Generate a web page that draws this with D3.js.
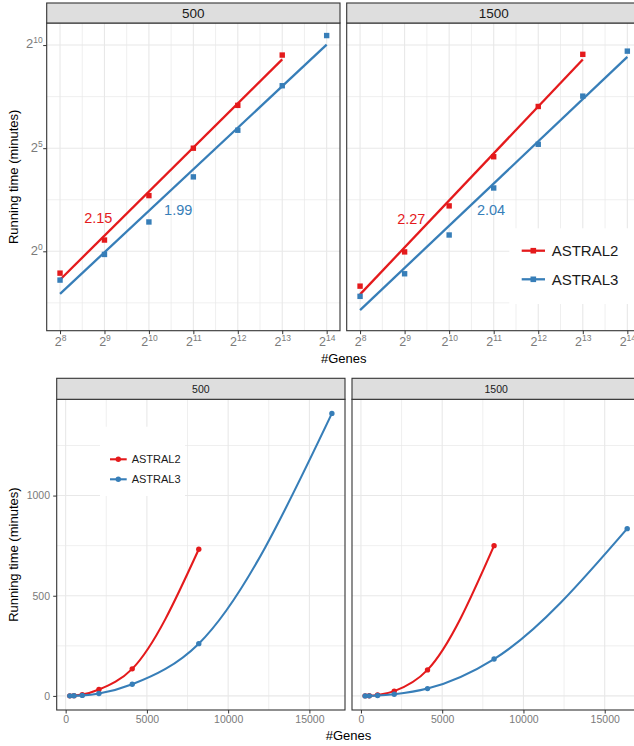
<!DOCTYPE html>
<html>
<head>
<meta charset="utf-8">
<script src="https://cdn.jsdelivr.net/npm/d3@7"></script>
<style>
  body { margin: 0; background: #fff; }
  svg { display: block; }
</style>
</head>
<body>
<svg id="chart" width="634" height="746"></svg>
<script>
// ---- data (running time in minutes per number of genes)
var genes = [256, 512, 1024, 2048, 4096, 8192, 16384];
var facets = ['500', '1500'];
var methods = ['ASTRAL2', 'ASTRAL3'];
var astral2_500 = [0.48, 1.46, 6.5, 32, 135, 732];
var astral3_500 = [0.38, 0.9, 2.68, 12.2, 58.5, 261, 1410];
var astral2_1500 = [0.31, 0.98, 4.6, 24, 130, 750];
var astral3_1500 = [0.22, 0.47, 1.73, 8.4, 36.5, 184, 835];
var slopes500 = ['2.15', '1.99'];
var slopes1500 = ['2.27', '2.04'];
// where the slope labels sit, in log2(genes), log2(minutes)
var slopeAt500 = [[8.86, 1.35], [10.66, 1.78]];
var slopeAt1500 = [[9.15, 1.32], [10.94, 1.76]];
var logXTicks = [8, 9, 10, 11, 12, 13, 14];
var logYTicks = [0, 5, 10];
var linXTicks = [0, 5000, 10000, 15000];
var linYTicks = [0, 500, 1000];

var colors = ['#e41a1c', '#377eb8'];
var FONT = '"Liberation Sans", Arial, Helvetica, sans-serif';

var seriesByFacet = {
  '500': [astral2_500, astral3_500],
  '1500': [astral2_1500, astral3_1500]
};
var slopesByFacet = { '500': slopes500, '1500': slopes1500 };
var slopeAtByFacet = { '500': slopeAt500, '1500': slopeAt1500 };

var svg = d3.select('#chart').attr('font-family', FONT);

var topL = { strip: 3, y0: 23, y1: 330.7, panels: [[46.7, 340], [346.7, 640.7]] };
var botL = { strip: 378.3, y0: 399.3, y1: 710, panels: [[56.7, 345], [352, 640.3]] };

function points(vals) {
  return vals.map(function (v, i) { return { x: genes[i], y: v }; });
}

// least squares in log2-log2 space (like geom_smooth(method = 'lm'))
function fitLog(vals) {
  var lx = vals.map(function (v, i) { return Math.log2(genes[i]); });
  var ly = vals.map(function (v) { return Math.log2(v); });
  var mx = d3.mean(lx), my = d3.mean(ly);
  var sxy = d3.sum(lx, function (x, i) { return (x - mx) * (ly[i] - my); });
  var sxx = d3.sum(lx, function (x) { return (x - mx) * (x - mx); });
  var b = sxy / sxx, a = my - b * mx;
  return [lx[0], lx[lx.length - 1]].map(function (x) {
    return { x: Math.pow(2, x), y: Math.pow(2, a + b * x) };
  });
}

function strip(x0, x1, yTop, yBot, label, size) {
  svg.append('rect')
    .attr('x', x0).attr('y', yTop)
    .attr('width', x1 - x0).attr('height', yBot - yTop)
    .attr('fill', '#dedede').attr('stroke', '#333').attr('stroke-width', 1.1);
  svg.append('text')
    .attr('x', (x0 + x1) / 2).attr('y', (yTop + yBot) / 2)
    .attr('dy', '0.36em')
    .attr('text-anchor', 'middle')
    .attr('font-size', size)
    .attr('fill', '#1a1a1a')
    .text(label);
}

function grid(g, xs, ys, xMajor, xMinor, yMajor, yMinor, x0, x1, y0, y1) {
  g.append('rect').attr('x', x0).attr('y', y0).attr('width', x1 - x0).attr('height', y1 - y0).attr('fill', '#fff');
  [[xMinor, 0.7], [xMajor, 1.1]].forEach(function (p) {
    g.selectAll(null).data(p[0]).enter().append('line')
      .attr('x1', function (d) { return xs(d); }).attr('x2', function (d) { return xs(d); })
      .attr('y1', y0).attr('y2', y1)
      .attr('stroke', '#e8e8e8').attr('stroke-width', p[1]);
  });
  [[yMinor, 0.7], [yMajor, 1.1]].forEach(function (p) {
    g.selectAll(null).data(p[0]).enter().append('line')
      .attr('y1', function (d) { return ys(d); }).attr('y2', function (d) { return ys(d); })
      .attr('x1', x0).attr('x2', x1)
      .attr('stroke', '#e8e8e8').attr('stroke-width', p[1]);
  });
}

function styleAxis(g, size) {
  g.attr('font-family', FONT).attr('font-size', size);
  g.select('.domain').remove();
  g.selectAll('.tick line').attr('stroke', '#333').attr('stroke-width', 1);
  g.selectAll('.tick text').attr('fill', '#7a7a7a');
}

function powerLabel(sel, big, small) {
  sel.text(null).each(function (d) {
    var t = d3.select(this);
    t.append('tspan').attr('font-size', big).text('2');
    t.append('tspan').attr('font-size', small).attr('dy', -5).text(Math.round(Math.log2(d)));
  });
}

// ================= top: log-log panels =================
var ysTop = d3.scaleLog().base(2)
  .domain([Math.pow(2, -3.85), Math.pow(2, 11.07)])
  .range([topL.y1, topL.y0]);

facets.forEach(function (facet, fi) {
  var x0 = topL.panels[fi][0], x1 = topL.panels[fi][1];
  var xs = d3.scaleLog().base(2).domain([Math.pow(2, 7.7), Math.pow(2, 14.3)]).range([x0, x1]);
  var g = svg.append('g');

  var pw = function (k) { return Math.pow(2, k); };
  grid(g, xs, ysTop,
    logXTicks.map(pw), logXTicks.slice(0, -1).map(function (k) { return pw(k + 0.5); }),
    logYTicks.map(pw), [-2.5, 2.5, 7.5].map(pw),
    x0, x1, topL.y0, topL.y1);

  var line = d3.line().x(function (d) { return xs(d.x); }).y(function (d) { return ysTop(d.y); });

  seriesByFacet[facet].forEach(function (vals, si) {
    g.selectAll(null).data(points(vals)).enter().append('rect')
      .attr('x', function (d) { return xs(d.x) - 2.7; })
      .attr('y', function (d) { return ysTop(d.y) - 2.7; })
      .attr('width', 5.4).attr('height', 5.4)
      .attr('fill', colors[si]);
    g.append('path').datum(fitLog(vals))
      .attr('d', line)
      .attr('fill', 'none').attr('stroke', colors[si]).attr('stroke-width', 2.3);
    var at = slopeAtByFacet[facet][si];
    g.append('text')
      .attr('x', xs(Math.pow(2, at[0]))).attr('y', ysTop(Math.pow(2, at[1])))
      .attr('text-anchor', 'middle')
      .attr('font-size', 14.5)
      .attr('fill', colors[si])
      .text(slopesByFacet[facet][si]);
  });

  g.append('rect').attr('x', x0).attr('y', topL.y0).attr('width', x1 - x0).attr('height', topL.y1 - topL.y0)
    .attr('fill', 'none').attr('stroke', '#333').attr('stroke-width', 1.1);

  var ax = svg.append('g').attr('transform', 'translate(0,' + topL.y1 + ')')
    .call(d3.axisBottom(xs).tickValues(logXTicks.map(pw)).tickSize(3.5).tickPadding(3.4));
  styleAxis(ax, 12.5);
  powerLabel(ax.selectAll('.tick text'), 12.5, 8.5);

  if (fi === 0) {
    var ay = svg.append('g').attr('transform', 'translate(' + x0 + ',0)')
      .call(d3.axisLeft(ysTop).tickValues(logYTicks.map(pw)).tickSize(3.5).tickPadding(0.5));
    styleAxis(ay, 13);
    ay.selectAll('.tick text').attr('dy', '0.22em');
    powerLabel(ay.selectAll('.tick text'), 13, 8.5);
  }

  strip(x0, x1, topL.strip, topL.y0, facet, 13.5);
});

// top legend
(function () {
  var lg = svg.append('g');
  lg.append('rect').attr('x', 509.3).attr('y', 228.3).attr('width', 125).attr('height', 75.7).attr('fill', '#fff');
  methods.forEach(function (m, i) {
    var y = 250.7 + i * 28.6;
    lg.append('line').attr('x1', 521.7).attr('x2', 545).attr('y1', y).attr('y2', y)
      .attr('stroke', colors[i]).attr('stroke-width', 2.3);
    lg.append('rect').attr('x', 533.3 - 2.8).attr('y', y - 2.8).attr('width', 5.6).attr('height', 5.6).attr('fill', colors[i]);
    lg.append('text').attr('x', 551.7).attr('y', y).attr('dy', '0.36em')
      .attr('font-size', 15).attr('fill', '#1a1a1a').text(m);
  });
})();

svg.append('text').attr('x', (topL.panels[0][0] + topL.panels[1][1]) / 2).attr('y', 363)
  .attr('text-anchor', 'middle').attr('font-size', 13).attr('fill', '#000').text('#Genes');
svg.append('text').attr('transform', 'translate(18,' + (topL.y0 + topL.y1) / 2 + ') rotate(-90)')
  .attr('text-anchor', 'middle').attr('font-size', 13).attr('fill', '#000').text('Running time (minutes)');

// ================= bottom: linear panels =================
var allVals = d3.merge([astral2_500, astral3_500, astral2_1500, astral3_1500]);
var yExt = d3.extent(allVals), yPad = (yExt[1] - yExt[0]) * 0.05;
var xExt = d3.extent(genes), xPad = (xExt[1] - xExt[0]) * 0.05;
var ysBot = d3.scaleLinear().domain([yExt[0] - yPad, yExt[1] + yPad]).range([botL.y1, botL.y0]);

function minorOf(ticks, domain) {
  var step = ticks[1] - ticks[0];
  return d3.range(ticks[0] - step / 2, domain[1], step).filter(function (v) { return v >= domain[0]; });
}

facets.forEach(function (facet, fi) {
  var x0 = botL.panels[fi][0], x1 = botL.panels[fi][1];
  var xs = d3.scaleLinear().domain([xExt[0] - xPad, xExt[1] + xPad]).range([x0, x1]);
  var g = svg.append('g');

  grid(g, xs, ysBot, linXTicks, minorOf(linXTicks, xs.domain()),
    linYTicks, minorOf(linYTicks, ysBot.domain()), x0, x1, botL.y0, botL.y1);

  var line = d3.line().curve(d3.curveMonotoneX)
    .x(function (d) { return xs(d.x); }).y(function (d) { return ysBot(d.y); });

  seriesByFacet[facet].forEach(function (vals, si) {
    var pts = points(vals);
    g.append('path').datum(pts).attr('d', line)
      .attr('fill', 'none').attr('stroke', colors[si]).attr('stroke-width', 2.1);
    g.selectAll(null).data(pts).enter().append('circle')
      .attr('cx', function (d) { return xs(d.x); })
      .attr('cy', function (d) { return ysBot(d.y); })
      .attr('r', 2.7).attr('fill', colors[si]);
  });

  g.append('rect').attr('x', x0).attr('y', botL.y0).attr('width', x1 - x0).attr('height', botL.y1 - botL.y0)
    .attr('fill', 'none').attr('stroke', '#333').attr('stroke-width', 1.1);

  var ax = svg.append('g').attr('transform', 'translate(0,' + botL.y1 + ')')
    .call(d3.axisBottom(xs).tickValues(linXTicks).tickFormat(d3.format('d')).tickSize(3.5).tickPadding(2.3));
  styleAxis(ax, 10.5);

  if (fi === 0) {
    var ay = svg.append('g').attr('transform', 'translate(' + x0 + ',0)')
      .call(d3.axisLeft(ysBot).tickValues(linYTicks).tickFormat(d3.format('d')).tickSize(3.5).tickPadding(3.2));
    styleAxis(ay, 10.5);
  }

  strip(x0, x1, botL.strip, botL.y0, facet, 10.5);
});

// bottom legend
(function () {
  var lg = svg.append('g');
  lg.append('rect').attr('x', 100).attr('y', 426.7).attr('width', 85).attr('height', 69.3).attr('fill', '#fff');
  methods.forEach(function (m, i) {
    var y = 459.3 + i * 20;
    lg.append('line').attr('x1', 110).attr('x2', 126.7).attr('y1', y).attr('y2', y)
      .attr('stroke', colors[i]).attr('stroke-width', 2.1);
    lg.append('circle').attr('cx', 118.3).attr('cy', y).attr('r', 2.7).attr('fill', colors[i]);
    lg.append('text').attr('x', 131.7).attr('y', y).attr('dy', '0.36em')
      .attr('font-size', 11).attr('fill', '#1a1a1a').text(m);
  });
})();

svg.append('text').attr('x', (botL.panels[0][0] + botL.panels[1][1]) / 2).attr('y', 740)
  .attr('text-anchor', 'middle').attr('font-size', 13).attr('fill', '#000').text('#Genes');
svg.append('text').attr('transform', 'translate(18,' + (botL.y0 + botL.y1) / 2 + ') rotate(-90)')
  .attr('text-anchor', 'middle').attr('font-size', 13).attr('fill', '#000').text('Running time (minutes)');
</script>
</body>
</html>
